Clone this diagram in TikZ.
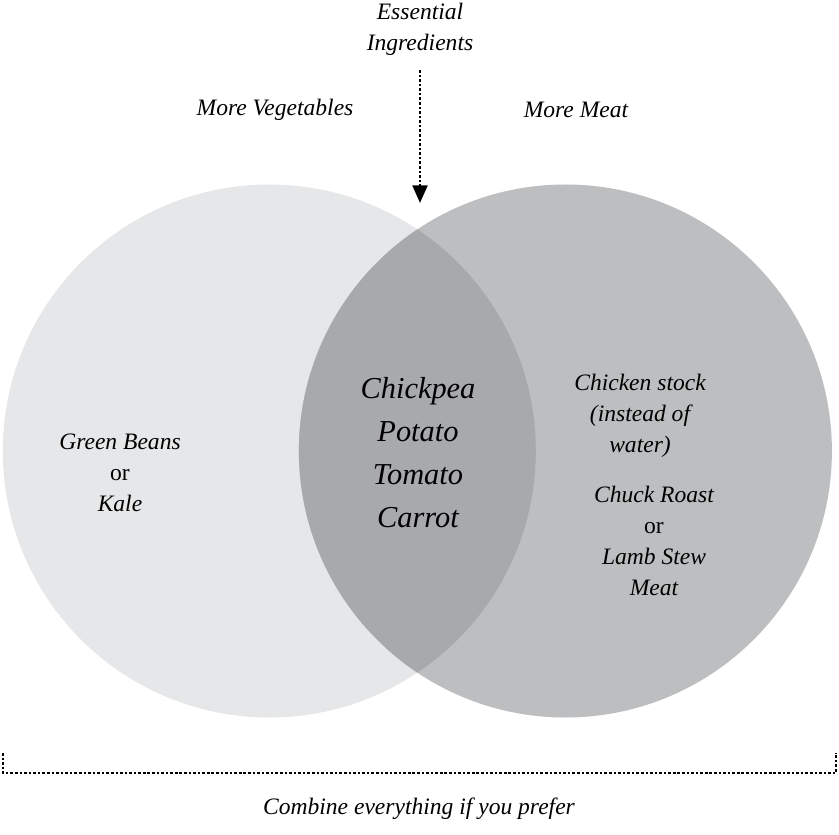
\documentclass[tikz,border=0pt]{standalone}
\usepackage{fontspec}
\setmainfont{Liberation Serif}
\usetikzlibrary{arrows.meta}

\definecolor{vegfill}{HTML}{E6E7E8}
\definecolor{meatfill}{HTML}{BCBEC0}
\definecolor{bothfill}{HTML}{A7A9AC}

\begin{document}
\begin{tikzpicture}[
        label/.style={font=\fontsize{13.4}{17.6}\selectfont\itshape, align=center, inner sep=0pt},
        core/.style={font=\fontsize{17.3}{24.5}\selectfont\itshape, align=center, inner sep=0pt},
        dots/.style={line width=1.5pt, dash pattern=on 1.5pt off 1.1pt}
    ]
        \useasboundingbox (0,0) rectangle (16.78,16.68);

        % Cerchi del diagramma
        \coordinate (veg) at (5.386,7.66);
        \coordinate (meat) at (11.308,7.66);
        \fill[vegfill] (veg) circle (5.33);
        \fill[meatfill] (meat) circle (5.33);
        \begin{scope}
            \clip (veg) circle (5.33);
            \fill[bothfill] (meat) circle (5.33);
        \end{scope}

        % Titoli in alto
        \node[label] (essential) at (8.4,16.09) {Essential\\Ingredients};
        \node[label] (moreveg) at (5.5,14.48) {More Vegetables};
        \node[label] (moremeat) at (11.52,14.48) {More Meat};

        % Freccia verso l'intersezione
        \coordinate (tip) at (8.4,12.62);
        \draw[dots, -{Triangle[width=8.4pt,length=10pt]}] (essential.south |- 0,15.28) -- (tip);

        % Ingredienti
        \node[core] (common) at (8.36,7.62) {Chickpea\\Potato\\Tomato\\Carrot};
        \node[label] (greens) at (2.4,7.22) {Green Beans\\\upshape or\\Kale};
        \node[label] (stock) at (12.8,8.36) {Chicken stock\\(instead of\\water)};
        \node[label] (roast) at (13.08,5.86) {Chuck Roast\\\upshape or\\Lamb Stew\\Meat};

        % Parentesi in basso
        \coordinate (bl) at (0.06,1.62);
        \coordinate (br) at (16.72,1.62);
        \draw[dots, line width=1.1pt] (bl) -- (0.06,1.22) -- (16.72,1.22) -- (br);
        \node[label] (combine) at (8.38,0.5) {Combine everything if you prefer};
    \end{tikzpicture}
\end{document}
